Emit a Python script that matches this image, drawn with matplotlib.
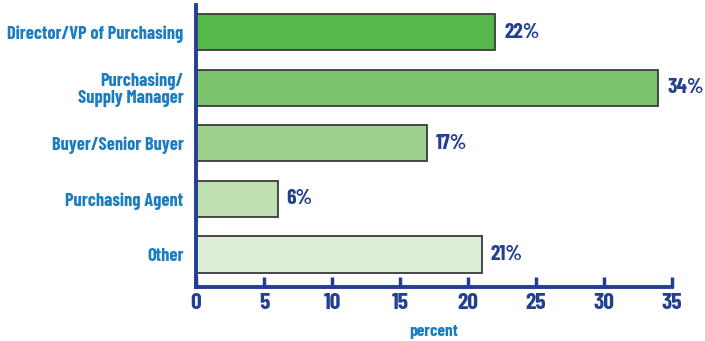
import matplotlib
matplotlib.use("Agg")
import matplotlib.pyplot as plt

categories = ["Director/VP of Purchasing", "Purchasing/\nSupply Manager",
              "Buyer/Senior Buyer", "Purchasing Agent", "Other"]
values = [22, 34, 17, 6, 21]
bar_colors = ["#55b84a", "#7cc46c", "#9bd18c", "#bfe0b2", "#deeed6"]
xticks = [0, 5, 10, 15, 20, 25, 30, 35]

FONT = ["Barlow Condensed", "Fira Sans Condensed", "DejaVu Sans"]
BLUE = "#1a7cc1"
NAVY = "#233f8f"

fig = plt.figure(figsize=(7.05, 3.41), dpi=100)
ax = fig.add_axes([196 / 705, 1 - 287 / 341, 476 / 705, 282 / 341])

ypos = list(range(len(categories)))
ax.barh(ypos, values, height=0.65, color=bar_colors, edgecolor="#3a3a3a",
        linewidth=1.3, zorder=2)
for y, v in zip(ypos, values):
    ax.text(v + 0.65, y, f"{v}%", va="center", ha="left", fontsize=15.5,
            fontweight="bold", color=NAVY, family=FONT)

ax.set_xlim(0, 35)
ax.set_ylim(len(categories) - 1 + 0.585, -0.486)
ax.set_yticks(ypos)
ax.set_yticklabels(categories, fontsize=13.3, fontweight="bold", color=BLUE,
                   family=FONT, linespacing=1.0)
ax.tick_params(axis="y", length=0, pad=9)
ax.set_xticks(xticks)
ax.set_xticklabels([str(t) for t in xticks], fontsize=17, fontweight="bold",
                   color=NAVY, family=FONT)
ax.tick_params(axis="x", direction="in", length=7, width=2.5, color=NAVY, pad=4)
ax.set_xlabel("percent", fontsize=12.5, fontweight="bold", color=BLUE,
              family=FONT, labelpad=8)

for side in ("top", "right"):
    ax.spines[side].set_visible(False)
for side in ("left", "bottom"):
    ax.spines[side].set_color(NAVY)
    ax.spines[side].set_linewidth(2.8)

fig.savefig("out.png", dpi=100)
